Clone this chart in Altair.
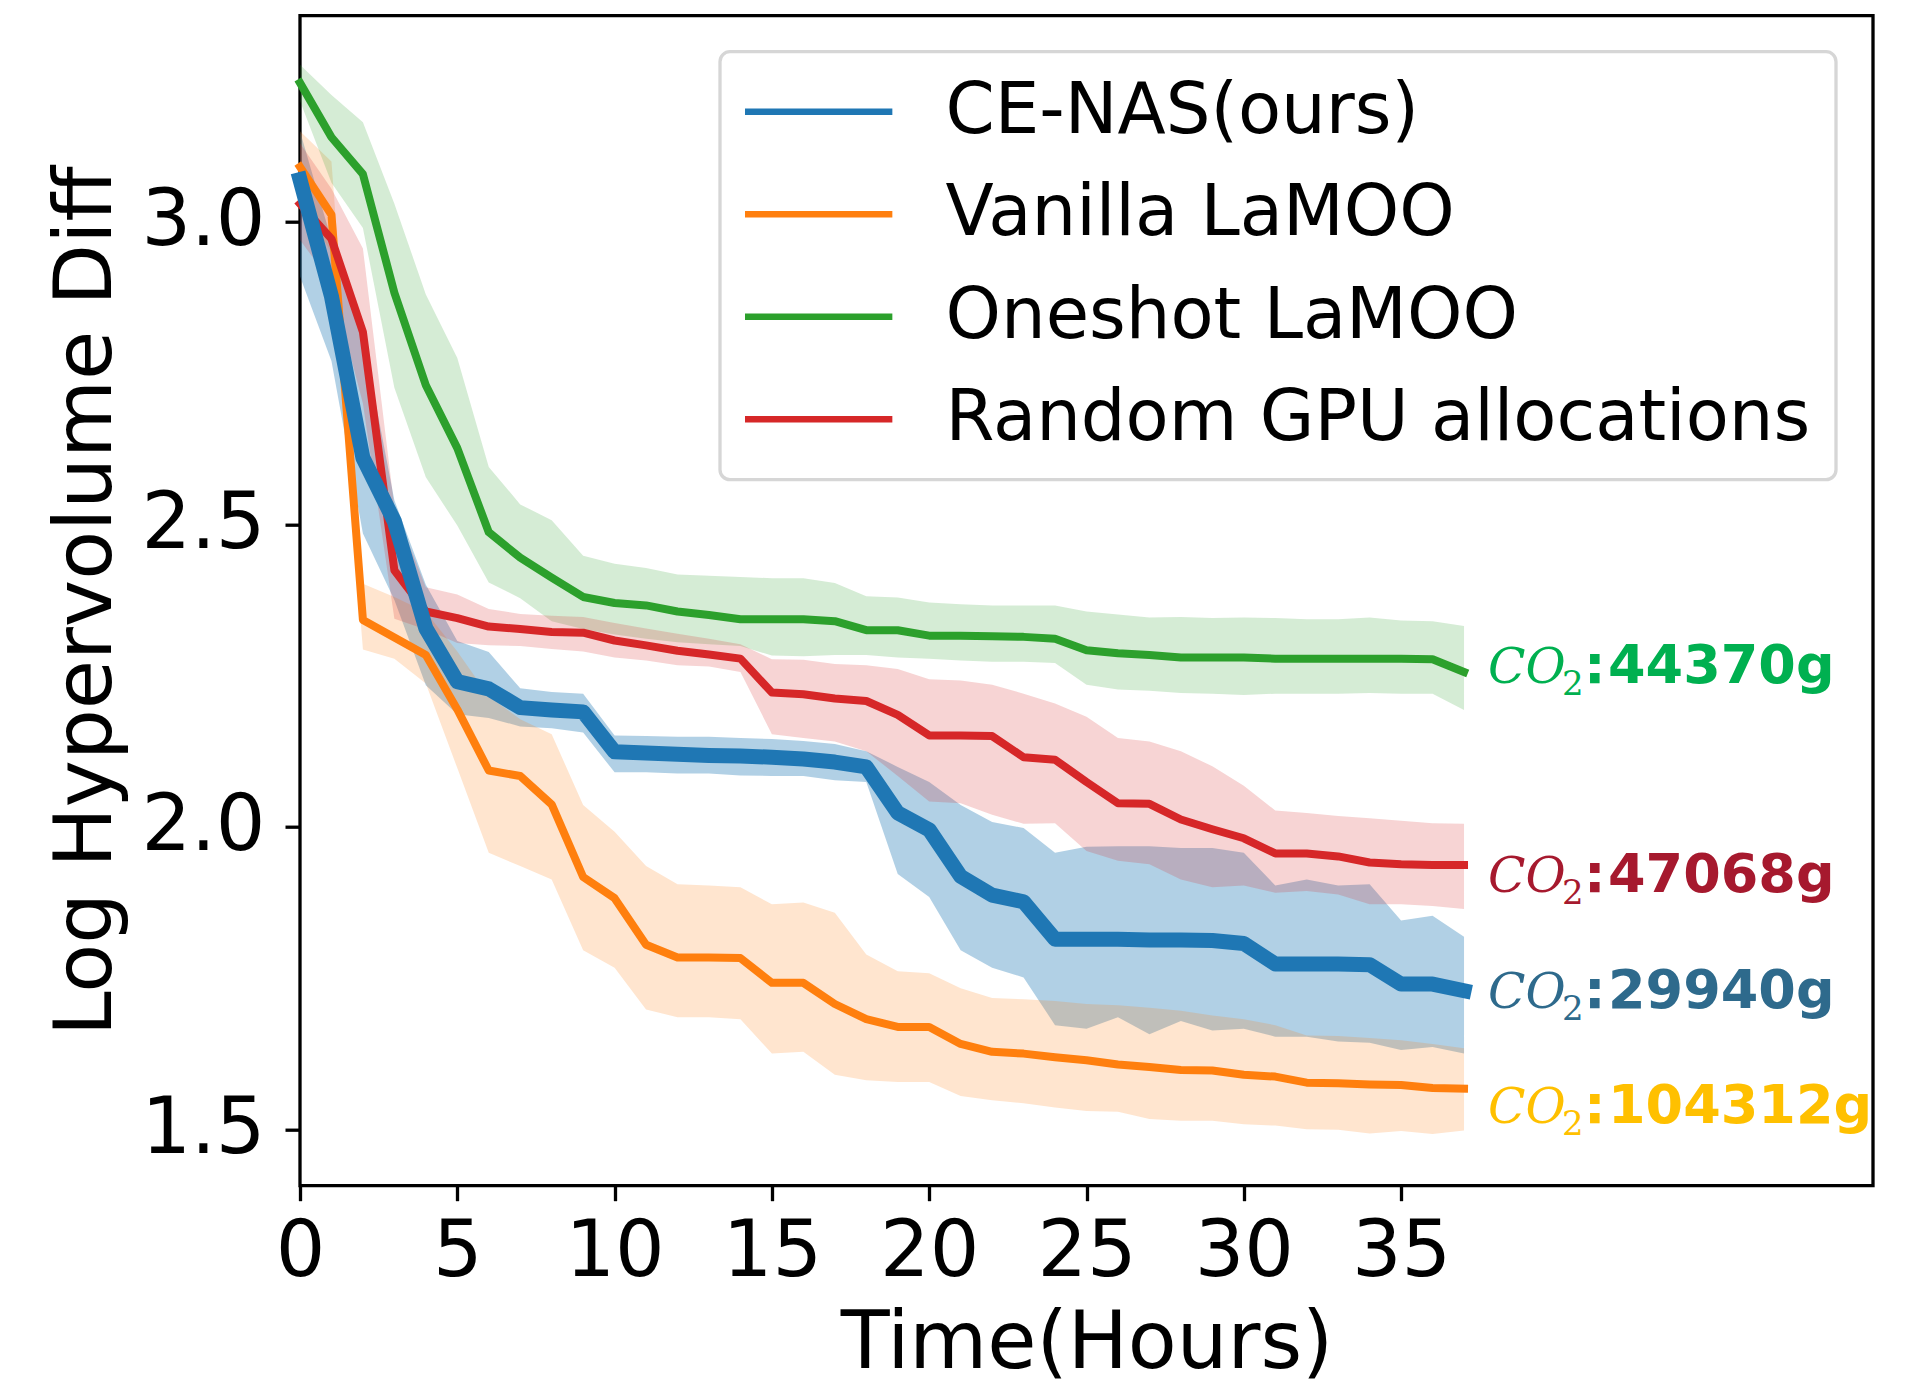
import altair as alt
import pandas as pd

# ---------------- data ----------------
hours = list(range(38))
series_names = ["CE-NAS(ours)", "Vanilla LaMOO", "Oneshot LaMOO", "Random GPU allocations"]
series_colors = ["#1f77b4", "#ff7f0e", "#2ca02c", "#d62728"]

cenas_mean = [3.07, 2.877, 2.61, 2.505, 2.328, 2.24, 2.228, 2.197, 2.193, 2.19,
              2.124, 2.122, 2.12, 2.118, 2.117, 2.115, 2.112, 2.107, 2.099, 2.023,
              1.995, 1.918, 1.887, 1.876, 1.814, 1.814, 1.814, 1.813, 1.813, 1.812,
              1.807, 1.773, 1.773, 1.773, 1.772, 1.74, 1.74, 1.729]
cenas_hi = [3.15, 2.97, 2.81, 2.54, 2.40, 2.307, 2.289, 2.229, 2.223, 2.22,
            2.151, 2.15, 2.149, 2.149, 2.147, 2.145, 2.142, 2.137, 2.125, 2.099,
            2.074, 2.036, 2.008, 1.998, 1.957, 1.967, 1.968, 1.968, 1.965, 1.965,
            1.957, 1.903, 1.913, 1.903, 1.905, 1.845, 1.853, 1.818]
cenas_lo = [2.91, 2.77, 2.485, 2.375, 2.234, 2.186, 2.18, 2.166, 2.163, 2.156,
            2.09, 2.09, 2.088, 2.088, 2.085, 2.084, 2.084, 2.077, 2.074, 1.922,
            1.884, 1.796, 1.767, 1.751, 1.672, 1.666, 1.685, 1.657, 1.679, 1.663,
            1.666, 1.653, 1.653, 1.645, 1.643, 1.631, 1.636, 1.625]

vanilla_mean = [3.091, 3.012, 2.342, 2.313, 2.284, 2.194, 2.093, 2.084, 2.037, 1.917,
                1.882, 1.805, 1.784, 1.784, 1.783, 1.742, 1.742, 1.707, 1.682, 1.669,
                1.669, 1.641, 1.628, 1.625, 1.619, 1.614, 1.607, 1.603, 1.598, 1.597,
                1.59, 1.587, 1.577, 1.576, 1.574, 1.573, 1.568, 1.567]
vanilla_hi = [3.15, 3.10, 2.402, 2.38, 2.355, 2.29, 2.216, 2.178, 2.153, 2.036,
              1.992, 1.935, 1.905, 1.903, 1.9, 1.872, 1.875, 1.858, 1.789, 1.761,
              1.758, 1.733, 1.717, 1.715, 1.712, 1.707, 1.705, 1.701, 1.696, 1.688,
              1.682, 1.672, 1.655, 1.654, 1.651, 1.647, 1.641, 1.634]
vanilla_lo = [3.03, 2.95, 2.293, 2.278, 2.237, 2.097, 1.957, 1.935, 1.913, 1.796,
              1.767, 1.698, 1.685, 1.685, 1.682, 1.625, 1.628, 1.59, 1.581, 1.578,
              1.578, 1.555, 1.548, 1.543, 1.536, 1.53, 1.529, 1.517, 1.514, 1.514,
              1.508, 1.506, 1.5, 1.499, 1.493, 1.497, 1.492, 1.498]

oneshot_mean = [3.23, 3.14, 3.079, 2.883, 2.73, 2.626, 2.487, 2.445, 2.412, 2.38,
                2.37, 2.366, 2.356, 2.35, 2.343, 2.343, 2.343, 2.34, 2.325, 2.325,
                2.316, 2.316, 2.315, 2.314, 2.311, 2.292, 2.287, 2.284, 2.28, 2.28,
                2.28, 2.278, 2.278, 2.278, 2.278, 2.278, 2.277, 2.256]
oneshot_hi = [3.26, 3.21, 3.165, 3.03, 2.88, 2.775, 2.595, 2.533, 2.507, 2.448,
              2.435, 2.428, 2.417, 2.415, 2.413, 2.411, 2.411, 2.403, 2.381, 2.379,
              2.371, 2.368, 2.366, 2.366, 2.366, 2.356, 2.351, 2.346, 2.347, 2.345,
              2.346, 2.345, 2.343, 2.343, 2.346, 2.341, 2.34, 2.332]
oneshot_lo = [3.20, 3.065, 2.99, 2.726, 2.578, 2.498, 2.404, 2.378, 2.34, 2.327,
              2.318, 2.311, 2.305, 2.302, 2.299, 2.283, 2.282, 2.284, 2.284, 2.28,
              2.278, 2.275, 2.273, 2.273, 2.271, 2.235, 2.227, 2.225, 2.221, 2.22,
              2.218, 2.22, 2.22, 2.22, 2.221, 2.22, 2.22, 2.193]

random_mean = [3.03, 2.972, 2.818, 2.424, 2.356, 2.345, 2.331, 2.327, 2.322, 2.321,
               2.308, 2.3, 2.291, 2.285, 2.278, 2.222, 2.219, 2.212, 2.208, 2.185,
               2.151, 2.151, 2.15, 2.115, 2.111, 2.074, 2.039, 2.038, 2.012, 1.996,
               1.981, 1.956, 1.956, 1.951, 1.941, 1.938, 1.937, 1.937]
random_hi = [3.13, 3.055, 2.956, 2.528, 2.396, 2.384, 2.36, 2.352, 2.349, 2.347,
             2.337, 2.328, 2.319, 2.311, 2.302, 2.277, 2.276, 2.269, 2.267, 2.261,
             2.244, 2.242, 2.235, 2.22, 2.204, 2.182, 2.147, 2.141, 2.125, 2.1,
             2.068, 2.027, 2.023, 2.018, 2.014, 2.01, 2.006, 2.005]
random_lo = [2.97, 2.90, 2.70, 2.344, 2.326, 2.304, 2.3, 2.299, 2.294, 2.29,
             2.28, 2.275, 2.267, 2.265, 2.256, 2.153, 2.147, 2.141, 2.125, 2.084,
             2.042, 2.039, 2.02, 2.005, 2.006, 1.96, 1.944, 1.938, 1.913, 1.9,
             1.903, 1.891, 1.894, 1.888, 1.872, 1.872, 1.869, 1.864]

# CO2 annotations (order: Oneshot, Random, CE-NAS, Vanilla)
co2_values = ["44370g", "47068g", "29940g", "104312g"]
co2_hour = [37, 37, 37, 37]
co2_y = [2.238, 1.893, 1.701, 1.511]
co2_colors = ["#00B050", "#A6192E", "#2E6A8C", "#FFC000"]

x_ticks = [0, 5, 10, 15, 20, 25, 30, 35]
y_ticks = [1.5, 2.0, 2.5, 3.0]

# ---------------- tables ----------------
rows = []
for name, col, m, lo, hi in [
    (series_names[0], series_colors[0], cenas_mean, cenas_lo, cenas_hi),
    (series_names[1], series_colors[1], vanilla_mean, vanilla_lo, vanilla_hi),
    (series_names[2], series_colors[2], oneshot_mean, oneshot_lo, oneshot_hi),
    (series_names[3], series_colors[3], random_mean, random_lo, random_hi),
]:
    for t, a, b, c in zip(hours, m, lo, hi):
        rows.append({"t": t, "series": name, "fillc": col, "mean": a, "lo": b, "hi": c})
df = pd.DataFrame(rows)
df_thin = df[df["series"] != series_names[0]]
df_blue = df[df["series"] == series_names[0]]

lab = pd.DataFrame({"t": co2_hour, "y": co2_y, "num": co2_values, "col": co2_colors})

# ---------------- encodings ----------------
XS = alt.Scale(domain=[0, 50], nice=False, zero=False)
YS = alt.Scale(domain=[1.4066, 3.341], nice=False, zero=False)
X_AXIS = alt.Axis(values=x_ticks, title="Time(Hours)", labelPadding=13, labelFlush=False,
                  titleX=786.5, titleY=182, titleBaseline="alphabetic", titleAlign="center")
Y_AXIS = alt.Axis(values=y_ticks, format=".1f", title="Log Hypervolume Diff", labelPadding=20,
                  labelFlush=False,
                  titleX=-190, titleY=585, titleAngle=270, titleBaseline="alphabetic",
                  titleAlign="center")

def xenc(field="t"):
    return alt.X(f"{field}:Q", scale=XS, axis=X_AXIS)

def yenc(field):
    return alt.Y(f"{field}:Q", scale=YS, axis=Y_AXIS)

stroke_scale = alt.Scale(domain=series_names, range=series_colors)
legend = alt.Legend(
    title=None, orient="none", legendX=420, legendY=36,
    symbolType="M-1,0H1", symbolSize=21815, symbolStrokeWidth=6.5, symbolOffset=-4,
    clipHeight=70,
    labelFontSize=70.5, labelFont="DejaVu Sans", labelColor="black",
    labelOffset=49.5, labelLimit=3000, padding=25, rowPadding=31.5,
    strokeColor="#d6d6d6", fillColor="white", cornerRadius=10,
)

band_blue = alt.Chart(df_blue).mark_area(strokeWidth=0, opacity=0.35).encode(
    x=xenc(), y=yenc("lo"), y2="hi:Q",
    fill=alt.Fill("fillc:N", scale=None),
)
band_rest = alt.Chart(df_thin).mark_area(strokeWidth=0, opacity=0.2).encode(
    x=xenc(), y=yenc("lo"), y2="hi:Q",
    fill=alt.Fill("fillc:N", scale=None),
)

thin = alt.Chart(df_thin).mark_line(strokeWidth=8, strokeCap="square", strokeJoin="round").encode(
    x=xenc(), y=yenc("mean"),
    stroke=alt.Stroke("series:N", scale=stroke_scale, legend=legend),
)

blue = alt.Chart(df_blue).mark_line(strokeWidth=15, strokeCap="square", strokeJoin="round").encode(
    x=xenc(), y=yenc("mean"),
    stroke=alt.Stroke("series:N", scale=stroke_scale, legend=legend),
)

base_lab = alt.Chart(lab).encode(x=xenc(), y=yenc("y"), color=alt.Color("col:N", scale=None))
co_txt = base_lab.mark_text(align="left", baseline="alphabetic", dx=24, font="DejaVu Serif",
                            fontStyle="italic", fontSize=49).encode(text=alt.value("CO"))
sub_txt = base_lab.mark_text(align="left", baseline="alphabetic", dx=98, dy=12, font="DejaVu Serif",
                             fontSize=34).encode(text=alt.value("2"))
colon_txt = base_lab.mark_text(align="left", baseline="alphabetic", dx=120, font="DejaVu Sans",
                               fontWeight="bold", fontSize=54).encode(text=alt.value(":"))
num_txt = base_lab.mark_text(align="left", baseline="alphabetic", dx=144, font="DejaVu Sans",
                             fontWeight="bold", fontSize=54).encode(text="num:N")

chart = alt.layer(band_blue, band_rest, thin, blue, co_txt, sub_txt, colon_txt, num_txt).properties(
    width=1573, height=1170,
    padding={"left": 292, "top": 7.7, "right": 24, "bottom": 198.3},
    autosize=alt.AutoSizeParams(type="none"),
    background="white",
).configure_view(
    stroke="black", strokeWidth=3.3
).configure_axis(
    domain=False, grid=False, tickColor="black", tickWidth=3.3, tickSize=15,
    labelFont="DejaVu Sans", labelFontSize=78, labelColor="black",
    titleFont="DejaVu Sans", titleFontSize=80, titleFontWeight="normal", titleColor="black",
).configure_legend(
    strokeWidth=3.3
)

chart.save("out.html", embed_options={"renderer": "svg", "actions": False})
